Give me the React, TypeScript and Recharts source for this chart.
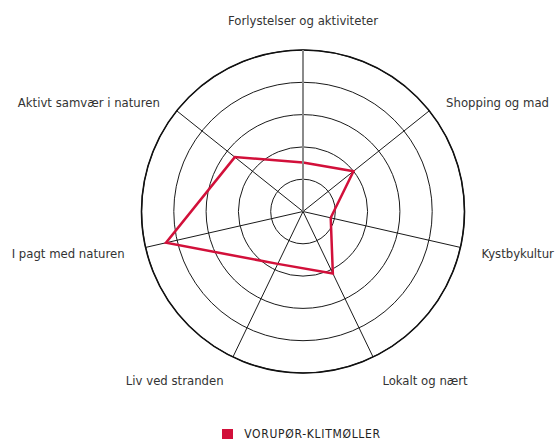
import { PolarAngleAxis, PolarGrid, PolarRadiusAxis, Radar, RadarChart, Legend } from 'recharts';

const categories = [
  'Forlystelser og aktiviteter',
  'Shopping og mad',
  'Kystbykultur',
  'Lokalt og nært',
  'Liv ved stranden',
  'I pagt med naturen',
  'Aktivt samvær i naturen',
];
const vorupoerValues = [1.52, 2.0, 0.88, 2.13, 1.8, 4.35, 2.7];
const seriesName = 'VORUPØR-KLITMØLLER';

const data = categories.map((c, i) => ({ category: c, value: vorupoerValues[i] }));

const CX = 303;
const CY = 211.5;
const R = 161.5;
const RED = '#D2103A';
const FONT = "'Liberation Sans Narrow', 'DejaVu Sans Condensed', Roboto, sans-serif";

// labels sit further out than recharts' default tick offset
function AngleTick(props: any) {
  const { payload } = props;
  const a = (payload.coordinate * Math.PI) / 180;
  const cos = Math.cos(a);
  const sin = Math.sin(a);
  const x = CX + 183 * cos;
  const extra = sin > 0.99 ? -8 : sin > 0 ? 5 : -5 * sin;
  const y = CY - 183 * sin + extra;
  const anchor = Math.abs(cos) < 1e-3 ? 'middle' : cos > 0 ? 'start' : 'end';
  return (
    <text x={x} y={y} textAnchor={anchor} dominantBaseline="central" fontSize={13} fill="#333" fontFamily={FONT}>
      {payload.value}
    </text>
  );
}

function LegendContent() {
  return (
    <div style={{ display: 'flex', justifyContent: 'center', alignItems: 'center', gap: 11 }}>
      <span style={{ width: 11, height: 10, background: RED, display: 'inline-block' }} />
      <span style={{ fontFamily: FONT, fontSize: 12, letterSpacing: 0.7, color: '#222' }}>{seriesName}</span>
    </div>
  );
}

export default function App() {
  return (
    <div style={{ position: 'absolute', left: 0, top: 0, width: 555, height: 440, background: '#fff' }}>
      <RadarChart width={555} height={440} data={data} cx={CX} cy={CY} outerRadius={R} margin={{ top: 0, right: 0, bottom: 0, left: 0 }}>
        <PolarGrid gridType="circle" stroke="#1a1a1a" strokeWidth={1} />
        <PolarAngleAxis dataKey="category" tick={<AngleTick />} tickLine={false} axisLineType="circle" axisLine={{ stroke: '#111', strokeWidth: 1.6 }} />
        <PolarRadiusAxis angle={90} domain={[0, 5]} tickCount={6} tick={false} axisLine={{ stroke: '#8a8a8a', strokeWidth: 2 }} />
        <Radar name={seriesName} dataKey="value" stroke={RED} strokeWidth={2.5} fill="none" fillOpacity={0} dot={false} isAnimationActive={false} />
        <Legend content={<LegendContent />} wrapperStyle={{ left: 24, top: 427, width: 555 }} />
      </RadarChart>
    </div>
  );
}
